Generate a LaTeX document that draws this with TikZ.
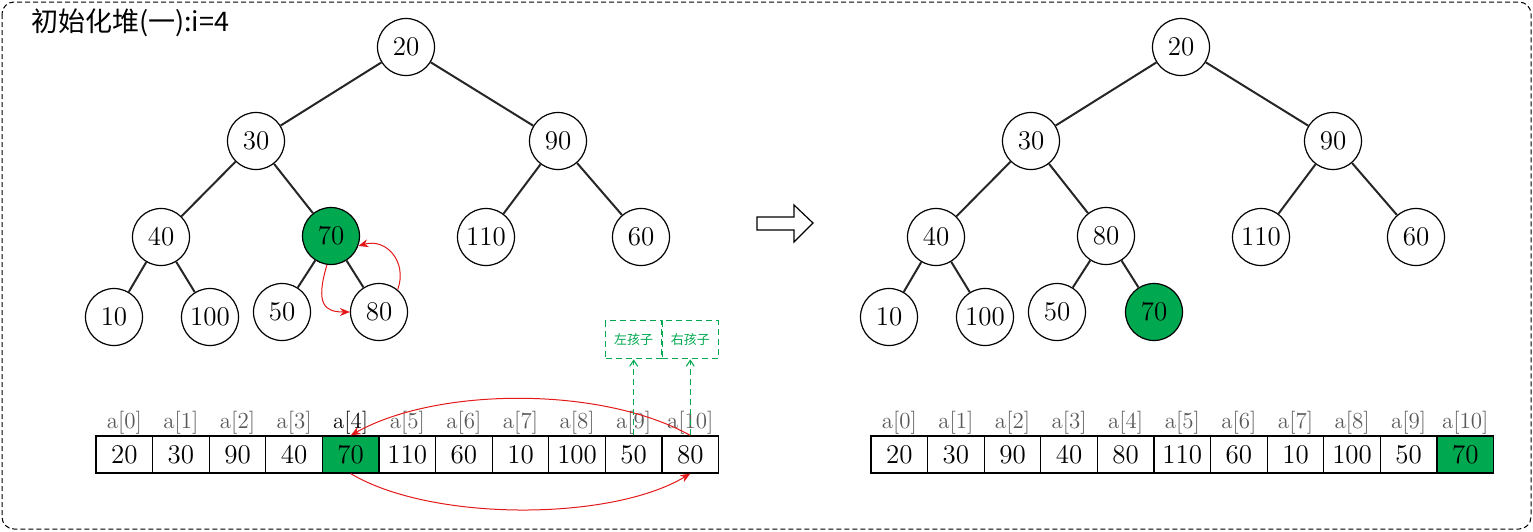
\documentclass[tikz,border=0pt]{standalone}
\usepackage{fontspec}
\newfontfamily\cjk{Noto Sans CJK SC}
\usetikzlibrary{arrows.meta,positioning}
\definecolor{heapgreen}{RGB}{0,168,80}
\definecolor{heapred}{RGB}{228,24,24}

\tikzset{
  hnode/.style={circle,draw,line width=0.6pt,minimum size=28.5pt,inner sep=0pt,
    font=\fontsize{13.5}{15}\selectfont},
  hot/.style={fill=heapgreen},
  cell/.style={draw,line width=0.6pt,minimum width=28.3pt,minimum height=18.5pt,
    inner sep=0pt,font=\fontsize{13.5}{15}\selectfont},
  idx/.style={inner sep=0.5pt,font=\fontsize{11.5}{13}\selectfont,text=black!65},
  idxon/.style={text=black},
  edge/.style={line width=1pt,black!85},
  swap/.style={-{Stealth[length=5pt,width=4pt]},heapred,line width=0.5pt},
  kid/.style={draw=heapgreen,dash pattern=on 3pt off 2pt,line width=0.5pt,
    minimum width=28pt,minimum height=19pt,text=heapgreen,
    font=\cjk\fontsize{6.5}{8}\selectfont},
  kidarrow/.style={-{Straight Barb[length=3pt,width=4pt]},heapgreen,
    dash pattern=on 3pt off 2pt,line width=0.5pt},
}

\begin{document}
\begin{tikzpicture}[x=0.5pt,y=-0.5pt]
  \useasboundingbox (0,0) rectangle (1533,531);
  % Frame and title
  \draw[line width=0.5pt,dash pattern=on 2.5pt off 1.5pt,rounded corners=6pt]
    (2,2) rectangle (1531,529);
  \node[anchor=west,font=\cjk\fontsize{13.5}{15}\selectfont] (title) at (24,23)
    {初始化堆(一):i=4};

  % Left heap
  \node[hnode] (l20) at (406,47) {20};
  \node[hnode] (l30) at (256,141) {30};
  \node[hnode] (l90) at (558,141) {90};
  \node[hnode] (l40) at (161,237) {40};
  \node[hnode,hot] (l70) at (331,236) {70};
  \node[hnode] (l110) at (486,237) {110};
  \node[hnode] (l60) at (641,237) {60};
  \node[hnode] (l10) at (114,317) {10};
  \node[hnode] (l100) at (210,317) {100};
  \node[hnode] (l50) at (282,312) {50};
  \node[hnode] (l80) at (379,312) {80};
  \draw[edge] (l20) -- (l30);
  \draw[edge] (l20) -- (l90);
  \draw[edge] (l30) -- (l40);
  \draw[edge] (l30) -- (l70);
  \draw[edge] (l90) -- (l110);
  \draw[edge] (l90) -- (l60);
  \draw[edge] (l40) -- (l10);
  \draw[edge] (l40) -- (l100);
  \draw[edge] (l70) -- (l50);
  \draw[edge] (l70) -- (l80);
  % Swap in the tree
  \draw[swap] (l70.262) .. controls +(-12,40) and +(-25,0) .. (l80.west);
  \draw[swap] (l80.50) .. controls +(10,-28) and +(28,-8) .. (l70.-20);

  % Left array
  \foreach \v/\s/\t [count=\i from 0] in
      {20//,30//,90//,40//,70/hot/idxon,110//,60//,10//,100//,50//,80//}
  {
    \node[cell,\s] (la\i) at ({96+56.6*(\i+0.5)},454.5) {\v};
    \node[idx,\t,above=0pt of la\i] (lai\i) {a[\i]};
  }
  \draw[swap] (la10.north) .. controls +(-90,-50) and +(85,-48) .. (la4.north);
  \draw[swap] (la4.south) .. controls +(80,48) and +(-80,48) .. (la10.south);

  % Children
  \node[kid,above=38pt of la9] (lk) {左孩子};
  \node[kid,above=38pt of la10] (rk) {右孩子};
  \draw[kidarrow] (la9.north) -- (lk.south);
  \draw[kidarrow] (la10.north) -- (rk.south);

  % Hollow arrow
  \draw[line width=0.6pt] (757,217) -- (794,217) -- (794,205) -- (813,223)
    -- (794,242) -- (794,230) -- (757,230) -- cycle;

  % Right heap
  \node[hnode] (r20) at (1181,47) {20};
  \node[hnode] (r30) at (1031,141) {30};
  \node[hnode] (r90) at (1333,141) {90};
  \node[hnode] (r40) at (936,237) {40};
  \node[hnode] (r80) at (1106,236) {80};
  \node[hnode] (r110) at (1261,237) {110};
  \node[hnode] (r60) at (1416,237) {60};
  \node[hnode] (r10) at (889,317) {10};
  \node[hnode] (r100) at (985,317) {100};
  \node[hnode] (r50) at (1057,312) {50};
  \node[hnode,hot] (r70) at (1154,312) {70};
  \draw[edge] (r20) -- (r30);
  \draw[edge] (r20) -- (r90);
  \draw[edge] (r30) -- (r40);
  \draw[edge] (r30) -- (r80);
  \draw[edge] (r90) -- (r110);
  \draw[edge] (r90) -- (r60);
  \draw[edge] (r40) -- (r10);
  \draw[edge] (r40) -- (r100);
  \draw[edge] (r80) -- (r50);
  \draw[edge] (r80) -- (r70);

  % Right array
  \foreach \v/\s [count=\i from 0] in
      {20/,30/,90/,40/,80/,110/,60/,10/,100/,50/,70/hot}
  {
    \node[cell,\s] (ra\i) at ({871+56.6*(\i+0.5)},454.5) {\v};
    \node[idx,above=0pt of ra\i] (rai\i) {a[\i]};
  }
\end{tikzpicture}
\end{document}
